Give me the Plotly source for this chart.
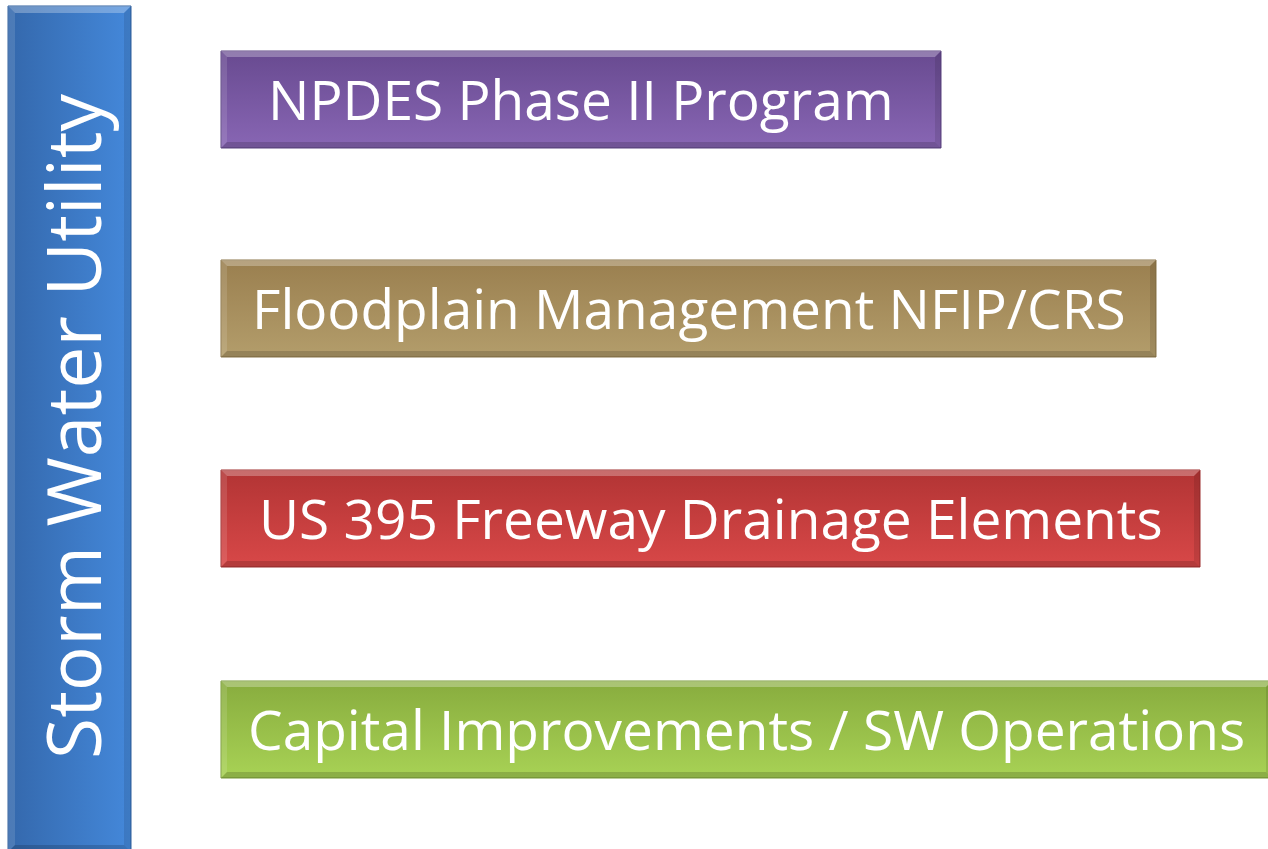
import plotly.graph_objects as go

# ---- content ----
side_label = "Storm Water Utility"
labels = [
    "NPDES Phase II Program",
    "Floodplain Management NFIP/CRS",
    "US 395 Freeway Drainage Elements",
    "Capital Improvements / SW Operations",
]
box_right = [941, 1156, 1200, 1272]
box_top = [51, 260, 470, 681]
colors_top = ["#684a90", "#9a7f4f", "#b23434", "#88ac3e"]
colors_bot = ["#8866b4", "#b39d6b", "#d84848", "#a8d255"]
borders = ["#5a4280", "#8a7448", "#9e2e2e", "#789a38"]

W, H = 1268, 849
BOX_LEFT = 221
BOX_H = 97
FONT = "Open Sans"

fig = go.Figure()


def rect(x0, y0, x1, y1, c0, c1, gtype, border):
    fig.add_trace(go.Scatter(
        x=[x0, x1, x1, x0, x0], y=[y0, y0, y1, y1, y0],
        mode="lines", fill="toself",
        fillgradient=dict(type=gtype, colorscale=[[0, c0], [1, c1]]),
        line=dict(width=1, color=border),
        hoverinfo="skip", showlegend=False))


def poly(xs, ys, color):
    fig.add_trace(go.Scatter(
        x=xs + [xs[0]], y=ys + [ys[0]], mode="lines", fill="toself",
        fillcolor=color, line=dict(width=0), hoverinfo="skip", showlegend=False))


def bevel(x0, y0, x1, y1, b):
    # top (light), left (light), bottom (dark), right (dark)
    poly([x0, x1, x1 - b, x0 + b], [y0, y0, y0 + b, y0 + b], "rgba(255,255,255,0.28)")
    poly([x0, x0 + b, x0 + b, x0], [y0, y0 + b, y1 - b, y1], "rgba(255,255,255,0.12)")
    poly([x0, x0 + b, x1 - b, x1], [y1, y1 - b, y1 - b, y1], "rgba(0,0,0,0.16)")
    poly([x1, x1, x1 - b, x1 - b], [y0, y1, y1 - b, y0 + b], "rgba(0,0,0,0.10)")


# side bar (horizontal gradient)
rect(8, 6, 131, 852, "#3468ac", "#4488da", "horizontal", "#2f5f9c")
bevel(8, 6, 131, 852, 7)
fig.add_annotation(x=72, y=427, xref="x", yref="y", text=side_label,
                   showarrow=False, textangle=-90,
                   font=dict(family=FONT, size=75, color="white"))

for lab, xr, yt, c0, c1, bc in zip(labels, box_right, box_top, colors_top, colors_bot, borders):
    y1 = yt + BOX_H
    rect(BOX_LEFT, yt, xr, y1, c1, c0, "vertical", bc)
    bevel(BOX_LEFT, yt, xr, y1, 6)
    fig.add_annotation(x=(BOX_LEFT + xr) / 2, y=yt + BOX_H / 2 - 1, xref="x", yref="y",
                       text=lab, showarrow=False,
                       font=dict(family=FONT, size=55, color="white"))

fig.update_layout(
    width=W, height=H, margin=dict(l=0, r=0, t=0, b=0),
    paper_bgcolor="white", plot_bgcolor="white",
    xaxis=dict(range=[0, W], visible=False, fixedrange=True),
    yaxis=dict(range=[H, 0], visible=False, fixedrange=True),
    showlegend=False,
)

fig.write_html("out.html", config={"displayModeBar": False},
               post_script="document.body.style.margin='0px';")
